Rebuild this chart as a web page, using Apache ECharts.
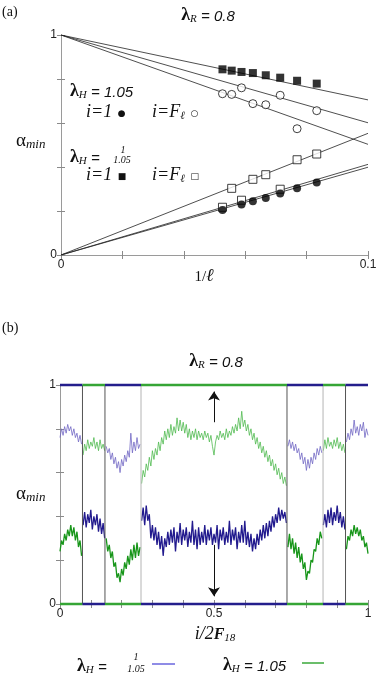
<!DOCTYPE html>
<html><head><meta charset="utf-8">
<script src="https://cdn.jsdelivr.net/npm/echarts@6/dist/echarts.min.js"></script>
<style>html,body{margin:0;padding:0;background:#fff}#c{width:382px;height:681px}</style>
</head><body><div id="c"></div>
<script>
// ---------- Panel (a) data ----------
const invL = [0.0526, 0.0556, 0.0588, 0.0625, 0.0667, 0.0714, 0.0769, 0.0833];
const squaresFilled = [0.844, 0.838, 0.832, 0.827, 0.817, 0.806, 0.792, 0.779];
const circlesOpen = [0.733, 0.730, 0.760, 0.688, 0.683, 0.726, 0.574, 0.656];
const squaresOpen = [0.217, 0.303, 0.249, 0.344, 0.365, 0.299, 0.433, 0.459];
const circlesFilled = [0.205, null, 0.230, 0.244, 0.259, 0.280, 0.303, 0.329];
// fit lines: value at 1/l = 0 and at 1/l = 0.1
const fitStart = [1, 1, 1, 0, 0, 0];
const fitEnd = [0.705, 0.601, 0.503, 0.553, 0.412, 0.399];

// ---------- Panel (b) data ----------
const regionEdges = [0, 0.073, 0.146, 0.263, 0.737, 0.854, 0.927, 1];
const topColor = ['blue', 'green', 'blue', 'green', 'blue', 'green', 'blue'];
const edgeShade = ['dark', 'dark', 'light', 'dark', 'light', 'dark'];
const gridStep = 0.005; // i / 2F18 sampling of the plotted values
const blueVals = [
  0.76,0.80,0.77,0.81,0.78,0.82,0.79,0.81,0.77,0.80,0.76,0.78,0.74,0.77,0.73,
  0.36,0.42,0.35,0.41,0.37,0.43,0.34,0.40,0.36,0.41,0.33,0.39,0.32,0.37,0.30,
  0.72,0.69,0.71,0.66,0.69,0.64,0.67,0.62,0.65,0.60,0.66,0.63,0.68,0.65,0.70,0.67,0.78,0.69,0.74,0.70,0.76,0.71,0.73,
  0.38,0.44,0.36,0.45,0.38,0.41,0.30,0.36,0.29,0.35,
  0.27,0.33,0.25,0.31,0.22,0.30,0.26,0.33,0.27,0.34,
  0.28,0.35,0.24,0.33,0.28,0.37,0.27,0.34,0.29,0.35,
  0.26,0.33,0.28,0.38,0.27,0.34,0.25,0.35,0.27,0.33,
  0.28,0.36,0.27,0.34,0.29,0.35,0.27,0.32,0.28,0.36,
  0.25,0.34,0.29,0.35,0.27,0.33,0.28,0.38,0.27,0.34,
  0.29,0.35,0.25,0.33,0.28,0.36,0.28,0.38,0.27,0.33,
  0.26,0.32,0.24,0.30,0.25,0.32,0.27,0.34,0.29,0.36,
  0.30,0.37,0.31,0.38,0.33,0.40,0.35,0.41,0.37,0.44,
  0.38,0.43,0.39,0.42,0.37,
  0.72,0.75,0.71,0.74,0.70,0.73,0.69,0.71,0.66,0.69,0.64,0.67,0.61,0.66,0.62,0.67,0.64,0.69,0.66,0.71,0.68,0.72,0.69,
  0.36,0.41,0.35,0.43,0.37,0.44,0.36,0.42,0.38,0.45,0.37,0.42,0.35,0.40,0.34,
  0.74,0.78,0.75,0.80,0.77,0.84,0.78,0.81,0.77,0.82,0.79,0.83,0.76,0.80,0.77
];
const greenVals = [
  0.24,0.29,0.27,0.32,0.29,0.34,0.31,0.36,0.31,0.35,0.29,0.33,0.26,0.29,0.22,
  0.68,0.73,0.70,0.75,0.71,0.74,0.72,0.76,0.71,0.74,0.70,0.75,0.71,0.73,0.70,
  0.30,0.24,0.27,0.21,0.24,0.17,0.19,0.12,0.14,0.10,0.16,0.13,0.19,0.16,0.22,0.18,0.25,0.20,0.27,0.21,0.28,0.22,0.26,
  0.55,0.61,0.58,0.64,0.61,0.67,0.63,0.70,0.66,0.71,
  0.68,0.74,0.70,0.76,0.73,0.79,0.75,0.80,0.76,0.82,
  0.77,0.81,0.78,0.85,0.79,0.84,0.79,0.83,0.78,0.82,
  0.76,0.80,0.75,0.79,0.76,0.80,0.75,0.79,0.76,0.78,
  0.75,0.79,0.76,0.78,0.74,0.77,0.72,0.68,0.74,0.77,
  0.75,0.79,0.76,0.78,0.75,0.80,0.76,0.79,0.77,0.81,
  0.78,0.82,0.79,0.85,0.80,0.88,0.81,0.84,0.79,0.82,
  0.77,0.80,0.75,0.78,0.73,0.76,0.71,0.74,0.69,0.72,
  0.67,0.70,0.65,0.68,0.63,0.66,0.61,0.64,0.59,0.62,
  0.57,0.60,0.55,0.58,0.54,
  0.26,0.32,0.25,0.30,0.23,0.28,0.21,0.26,0.19,0.23,0.16,0.19,0.11,0.15,0.14,0.20,0.19,0.25,0.24,0.30,0.27,0.33,0.30,
  0.70,0.75,0.71,0.76,0.72,0.74,0.71,0.75,0.72,0.76,0.71,0.74,0.70,0.73,0.69,
  0.25,0.31,0.29,0.34,0.31,0.36,0.32,0.35,0.31,0.34,0.29,0.31,0.26,0.28,0.23
];
const arrowUp = [[0.5, 0.83], [0.5, 0.97]];
const arrowDown = [[0.5, 0.27], [0.5, 0.035]];

// ---------- style ----------
const SERIF = 'Liberation Serif';
const SANS = 'Liberation Sans';
const COL = {
  blueEdge: '#241e8c', greenEdge: '#35a535',
  blueUp: '#7167c4', blueLo: '#221a8e',
  greenUp: '#4fba4f', greenLo: '#18961a',
  dark: '#555555', light: '#b4b4b4'
};

const chart = echarts.init(document.getElementById('c'), null, {renderer: 'canvas'});

function axisCommon(show) {
  return {
    axisLine: {show: true, lineStyle: {color: '#9a9a9a', width: 1}},
    axisTick: {show: true, inside: true, length: 4, lineStyle: {color: '#8a8a8a'}},
    splitLine: {show: false},
    axisLabel: {show: show, fontFamily: SANS, fontSize: 12, color: '#222', margin: 4}
  };
}
function fmtEnds(vals) {
  return v => {
    for (const t of vals) if (Math.abs(v - t) < 1e-9) return String(t);
    return '';
  };
}

const grids = [
  {left: 61, right: 14, top: 35, height: 220},
  {left: 60, right: 14, top: 385, height: 219}
];
const xAxes = [
  Object.assign({gridIndex: 0, type: 'value', min: 0, max: 0.1, interval: 0.02, position: 'bottom'}, axisCommon(true)),
  Object.assign({gridIndex: 0, type: 'value', min: 0, max: 0.1, interval: 0.02, position: 'top'}, axisCommon(false)),
  Object.assign({gridIndex: 1, type: 'value', min: 0, max: 1, interval: 0.1, position: 'bottom'}, axisCommon(true)),
  Object.assign({gridIndex: 1, type: 'value', min: 0, max: 1, interval: 0.1, position: 'top'}, axisCommon(false))
];
xAxes[0].axisLabel.formatter = fmtEnds([0, 0.1]);
xAxes[2].axisLabel.formatter = fmtEnds([0, 0.5, 1]);
const yAxes = [
  Object.assign({gridIndex: 0, type: 'value', min: 0, max: 1, interval: 0.2, position: 'left'}, axisCommon(true)),
  Object.assign({gridIndex: 0, type: 'value', min: 0, max: 1, interval: 0.2, position: 'right'}, axisCommon(false)),
  Object.assign({gridIndex: 1, type: 'value', min: 0, max: 1, interval: 0.2, position: 'left'}, axisCommon(true)),
  Object.assign({gridIndex: 1, type: 'value', min: 0, max: 1, interval: 0.2, position: 'right'}, axisCommon(false))
];
yAxes[0].axisLabel.formatter = fmtEnds([0, 1]);
yAxes[2].axisLabel.formatter = fmtEnds([0, 1]);

const series = [];
// panel (a) fit lines
fitStart.forEach((s, k) => {
  series.push({type: 'line', xAxisIndex: 0, yAxisIndex: 0, symbol: 'none', silent: true,
    data: [[0, s], [0.1, fitEnd[k]]], lineStyle: {color: '#222', width: 0.8}, z: 2});
});
function scatterSet(vals, symbol, filled) {
  const data = [];
  invL.forEach((x, k) => { if (vals[k] != null) data.push([x, vals[k]]); });
  series.push({type: 'scatter', xAxisIndex: 0, yAxisIndex: 0, symbol: symbol,
    symbolSize: 8, data: data, z: 5,
    itemStyle: filled ? {color: '#000'} : {color: '#fff', borderColor: '#111', borderWidth: 1}});
}
scatterSet(squaresFilled, 'rect', true);
scatterSet(circlesOpen, 'circle', false);
scatterSet(squaresOpen, 'rect', false);
scatterSet(circlesFilled, 'circle', true);

// panel (b) noisy curves per region
for (let r = 0; r < regionEdges.length - 1; r++) {
  const a = regionEdges[r], b = regionEdges[r + 1];
  const bd = [], gd = [];
  for (let i = 0; i < blueVals.length; i++) {
    const x = +(i * gridStep).toFixed(4);
    const inR = (x >= a && x < b) || (r === regionEdges.length - 2 && x === b);
    if (inR) { bd.push([x, blueVals[i]]); gd.push([x, greenVals[i]]); }
  }
  const blueUpper = topColor[r] === 'blue';
  series.push({type: 'line', xAxisIndex: 2, yAxisIndex: 2, symbol: 'none', silent: true, data: bd,
    lineStyle: {color: blueUpper ? COL.blueUp : COL.blueLo, width: blueUpper ? 0.8 : 1.3}, z: 3});
  series.push({type: 'line', xAxisIndex: 2, yAxisIndex: 2, symbol: 'none', silent: true, data: gd,
    lineStyle: {color: blueUpper ? COL.greenLo : COL.greenUp, width: blueUpper ? 1.3 : 0.8}, z: 3});
  // coloured edges at 1 and 0
  series.push({type: 'line', xAxisIndex: 2, yAxisIndex: 2, symbol: 'none', silent: true, clip: false,
    data: [[a, 1], [b, 1]], lineStyle: {color: blueUpper ? COL.blueEdge : COL.greenEdge, width: 2.5}, z: 6});
  series.push({type: 'line', xAxisIndex: 2, yAxisIndex: 2, symbol: 'none', silent: true, clip: false,
    data: [[a, 0], [b, 0]], lineStyle: {color: blueUpper ? COL.greenEdge : COL.blueEdge, width: 2.5}, z: 6});
}
// vertical region boundaries
edgeShade.forEach((sh, k) => {
  const e = regionEdges[k + 1];
  series.push({type: 'line', xAxisIndex: 2, yAxisIndex: 2, symbol: 'none', silent: true,
    data: [[e, 0], [e, 1]], lineStyle: {color: sh === 'dark' ? COL.dark : COL.light, width: 1}, z: 4});
});
// arrows
series.push({type: 'lines', coordinateSystem: 'cartesian2d', xAxisIndex: 2, yAxisIndex: 2, silent: true,
  symbol: ['none', 'arrow'], symbolSize: 9, z: 7,
  lineStyle: {color: '#111', width: 1, opacity: 1},
  data: [{coords: arrowUp}, {coords: arrowDown}]});

// ---------- text ----------
const rich = {
  lam: {fontFamily: SERIF, fontSize: 18, fontWeight: 'bold', lineHeight: 18, padding: [0, 0, 1, 0], verticalAlign: 'bottom', color: '#111'},
  sub: {fontFamily: SERIF, fontStyle: 'italic', fontSize: 11, lineHeight: 11, verticalAlign: 'bottom', color: '#111'},
  num: {fontFamily: SANS, fontStyle: 'italic', fontSize: 15, lineHeight: 15, padding: [0, 0, 1, 0], verticalAlign: 'bottom', color: '#333'},
  it: {fontFamily: SERIF, fontStyle: 'italic', fontSize: 18, lineHeight: 18, padding: [0, 0, 1, 0], verticalAlign: 'bottom', color: '#111'},
  itb: {fontFamily: SERIF, fontStyle: 'italic', fontWeight: 'bold', fontSize: 16, lineHeight: 16, padding: [0, 0, 1, 0], verticalAlign: 'bottom', color: '#111'},
  rm: {fontFamily: SERIF, fontSize: 15, lineHeight: 15, padding: [0, 0, 1, 0], verticalAlign: 'bottom', color: '#111'},
  alpha: {fontFamily: SERIF, fontSize: 19, lineHeight: 19, padding: [0, 0, 1, 0], verticalAlign: 'bottom', color: '#111'},
  msub: {fontFamily: SERIF, fontStyle: 'italic', fontSize: 13, lineHeight: 13, verticalAlign: 'bottom', color: '#111'},
  mk: {fontFamily: 'DejaVu Sans', fontSize: 9, lineHeight: 9, padding: [0, 0, 4, 0], verticalAlign: 'bottom', color: '#111'},
  fr: {fontFamily: SERIF, fontStyle: 'italic', fontSize: 10, lineHeight: 10, color: '#333'}
};
function T(x, y, text, align, va) {
  return {type: 'text', x: x, y: y, silent: true, z: 100,
    style: {text: text, rich: rich, align: align || 'left', verticalAlign: va || 'middle',
      fontFamily: SERIF, fontSize: 14, fill: '#111'}};
}
const graphics = [
  T(2, 12, '(a)'),
  T(208, 16, '{lam|λ}{sub|R}{num| = 0.8}', 'center'),
  T(204, 277, '{rm|1/}{it|ℓ}', 'center'),
  T(70, 92, '{lam|λ}{sub|H}{num| = 1.05}'),
  T(86, 113, '{it|i=1}{mk|  ●}'),
  T(152, 113, '{it|i=F}{sub|ℓ}{mk|  ○}'),
  T(16, 142, '{alpha|α}{msub|min}'),
  T(70, 158, '{lam|λ}{sub|H}{num| =}'),
  T(123, 150, '{fr|1}', 'center'),
  T(122, 160, '{fr|1.05}', 'center'),
  T(86, 176, '{it|i=1}{mk|  ■}'),
  T(152, 176, '{it|i=F}{sub|ℓ}{mk|  □}'),
  T(2, 328, '(b)'),
  T(216, 362, '{lam|λ}{sub|R}{num| = 0.8}', 'center'),
  T(16, 495, '{alpha|α}{msub|min}'),
  T(215, 635, '{it|i/2}{itb|F}{sub|18}', 'center'),
  T(77, 667, '{lam|λ}{sub|H}{num| =}'),
  T(136, 657, '{fr|1}', 'center'),
  T(136, 669, '{fr|1.05}', 'center'),
  {type: 'line', silent: true, shape: {x1: 152, y1: 664, x2: 175, y2: 664}, style: {stroke: '#6a66de', lineWidth: 1.5}},
  T(223, 666, '{lam|λ}{sub|H}{num| = 1.05}'),
  {type: 'line', silent: true, shape: {x1: 302, y1: 663, x2: 324, y2: 663}, style: {stroke: '#3aa83a', lineWidth: 1.5}}
];

chart.setOption({
  animation: false,
  backgroundColor: '#fff',
  grid: grids,
  xAxis: xAxes,
  yAxis: yAxes,
  series: series,
  graphic: graphics
});
</script></body></html>
